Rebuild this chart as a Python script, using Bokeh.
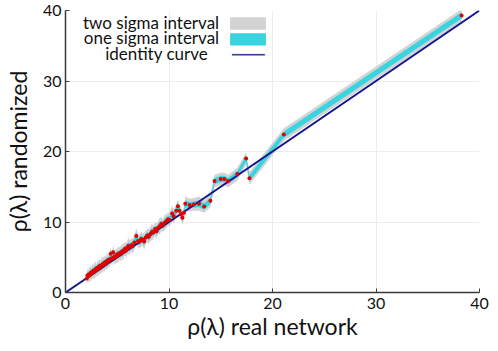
from bokeh.plotting import figure
from bokeh.models import Label, BoxAnnotation, FixedTicker
from bokeh.embed import file_html
from bokeh.resources import INLINE

# real-network rho(lambda) values (sorted) and randomized mean / sigma
real_x = [2.05, 2.12, 2.2, 2.28, 2.35, 2.45, 2.52, 2.6, 2.68, 2.75, 2.85, 2.92, 3.0, 3.08, 3.15, 3.22,
          3.3, 3.38, 3.45, 3.52, 3.6, 3.68, 3.75, 3.82, 3.9, 3.98, 4.05, 4.12, 4.2, 4.28, 4.37, 4.45,
          4.52, 4.6, 4.68, 4.75, 4.83, 4.9, 4.98, 5.05, 5.15, 5.25, 5.35, 5.45, 5.55, 5.65, 5.75, 5.85,
          5.95, 6.05, 6.2, 6.35, 6.5, 6.65, 6.84, 7.0, 7.15, 7.3, 7.45, 7.6, 7.75, 7.9, 8.05, 8.2,
          8.35, 8.5, 8.65, 8.8, 8.95, 9.1, 9.25, 9.4, 9.57, 9.75, 9.9, 10.05, 10.3, 10.45, 10.7, 10.86,
          11.0, 11.18, 11.3, 11.45, 11.57, 12.0, 12.4, 12.9, 13.4, 14.0, 14.4, 15.0, 15.35, 15.7, 16.6,
          17.45, 17.77, 21.1, 38.27]
rand_mean = [2.0, 2.45, 2.3, 2.6, 2.5, 2.8, 2.7, 2.95, 3.1, 2.9, 3.2, 3.35, 3.15, 3.5, 3.4, 3.6,
             3.75, 3.55, 3.8, 3.95, 3.85, 4.1, 4.0, 4.3, 4.15, 4.45, 4.3, 4.6, 4.5, 4.7, 5.5, 4.75,
             4.9, 5.7, 4.95, 5.1, 5.0, 5.3, 5.2, 5.45, 5.35, 5.6, 5.5, 5.8, 5.7, 6.0, 6.2, 5.95,
             6.3, 6.6, 6.4, 6.7, 6.6, 7.1, 8.0, 7.3, 7.2, 7.6, 7.5, 7.25, 7.8, 8.1, 7.9, 8.3,
             8.6, 8.5, 9.0, 8.7, 9.2, 9.4, 9.7, 9.5, 9.9, 10.1, 10.4, 10.3, 11.2, 10.8, 11.6, 12.25,
             11.6, 11.1, 10.6, 11.3, 12.6, 12.4, 12.5, 12.6, 12.2, 13.0, 15.8, 16.1, 16.1, 15.8, 16.8,
             19.0, 16.2, 22.4, 39.3]
rand_sigma = [0.35, 0.5, 0.4, 0.55, 0.45, 0.6, 0.4, 0.55, 0.5, 0.45, 0.6, 0.5, 0.4, 0.6, 0.45, 0.55,
              0.5, 0.45, 0.6, 0.5, 0.55, 0.45, 0.6, 0.5, 0.45, 0.6, 0.5, 0.55, 0.45, 0.6, 0.5, 0.45,
              0.55, 0.5, 0.6, 0.45, 0.5, 0.55, 0.45, 0.6, 0.5, 0.45, 0.55, 0.5, 0.6, 0.45, 0.5, 0.55,
              0.45, 0.6, 0.5, 0.45, 0.55, 0.5, 0.6, 0.45, 0.5, 0.55, 0.45, 0.6, 0.5, 0.45, 0.55, 0.5,
              0.6, 0.45, 0.5, 0.55, 0.45, 0.6, 0.5, 0.45, 0.55, 0.5, 0.45, 0.5, 0.55, 0.5, 0.45, 0.5,
              0.5, 0.45, 0.5, 0.45, 0.5, 0.45, 0.45, 0.5, 0.45, 0.45, 0.45, 0.45, 0.45, 0.45, 0.45,
              0.45, 0.45, 0.45, 0.45]
identity_x = [0, 40]
identity_y = [0, 40]
x_ticks = [0, 10, 20, 30, 40]
y_ticks = [0, 10, 20, 30, 40]

lo2 = [m - 2 * s for m, s in zip(rand_mean, rand_sigma)]
hi2 = [m + 2 * s for m, s in zip(rand_mean, rand_sigma)]
lo1 = [m - s for m, s in zip(rand_mean, rand_sigma)]
hi1 = [m + s for m, s in zip(rand_mean, rand_sigma)]

GRAY = "#d3d3d3"
CYAN = "#3ad3e0"
NAVY = "#14148f"
RED = "#e00000"
FONT = "Lato"

p = figure(width=498, height=351, x_range=(0, 40), y_range=(0, 40),
           output_backend="svg", toolbar_location=None,
           min_border_left=64, min_border_right=19, min_border_top=10, min_border_bottom=59)
p.outline_line_color = None
p.background_fill_color = "white"

p.varea(x=real_x, y1=lo2, y2=hi2, fill_color=GRAY, fill_alpha=1.0)
p.varea(x=real_x, y1=lo1, y2=hi1, fill_color=CYAN, fill_alpha=1.0)
p.line(identity_x, identity_y, line_color=NAVY, line_width=2)
p.scatter(real_x, rand_mean, size=4, fill_color=RED, line_color=None)

for ax, ticks in ((p.xaxis, x_ticks), (p.yaxis, y_ticks)):
    ax.ticker = FixedTicker(ticks=ticks)
    ax.major_tick_in = 4
    ax.major_tick_out = 0
    ax.minor_tick_line_color = None
    ax.axis_line_color = "#3a3a3a"
    ax.axis_line_width = 1.5
    ax.major_tick_line_color = "#3a3a3a"
    ax.major_label_text_font = FONT
    ax.major_label_text_font_size = "16px"
    ax.major_label_text_color = "#111111"
    ax.axis_label_text_font = FONT
    ax.axis_label_text_font_style = "normal"
    ax.axis_label_text_color = "#111111"

p.xaxis.axis_label = "ρ(λ) real network"
p.yaxis.axis_label = "ρ(λ) randomized"
p.xaxis.axis_label_text_font_size = "23px"
p.yaxis.axis_label_text_font_size = "23px"
p.xaxis.major_label_standoff = 5
p.xaxis.axis_label_standoff = 0
p.yaxis.major_label_standoff = 4
p.yaxis.axis_label_standoff = 8

p.xgrid.grid_line_color = "#ececec"
p.ygrid.grid_line_color = "#ececec"
p.xgrid.ticker = FixedTicker(ticks=x_ticks)
p.ygrid.ticker = FixedTicker(ticks=y_ticks)

# legend (text on the left, swatch on the right)
legend_items = [("two sigma interval", 14.84, 38.3), ("one sigma interval", 14.84, 36.17), ("identity curve", 13.78, 33.9)]
for txt, xx, yy in legend_items:
    p.add_layout(Label(x=xx, y=yy, text=txt,
                       text_align="right", text_baseline="middle", text_font=FONT,
                       text_font_size="17px", text_color="#111111"))
p.add_layout(BoxAnnotation(left=15.9, right=19.37, bottom=37.26, top=39.05,
                           fill_color=GRAY, fill_alpha=1.0, line_color=None, level="overlay"))
p.add_layout(BoxAnnotation(left=15.9, right=19.37, bottom=35.04, top=36.78,
                           fill_color=CYAN, fill_alpha=1.0, line_color=None, level="overlay"))
p.add_layout(BoxAnnotation(left=16.1, right=19.25, bottom=33.64, top=33.8,
                           fill_color=NAVY, fill_alpha=1.0, line_color=NAVY, line_width=1, level="overlay"))

open("out.html", "w").write(file_html(p, INLINE))
